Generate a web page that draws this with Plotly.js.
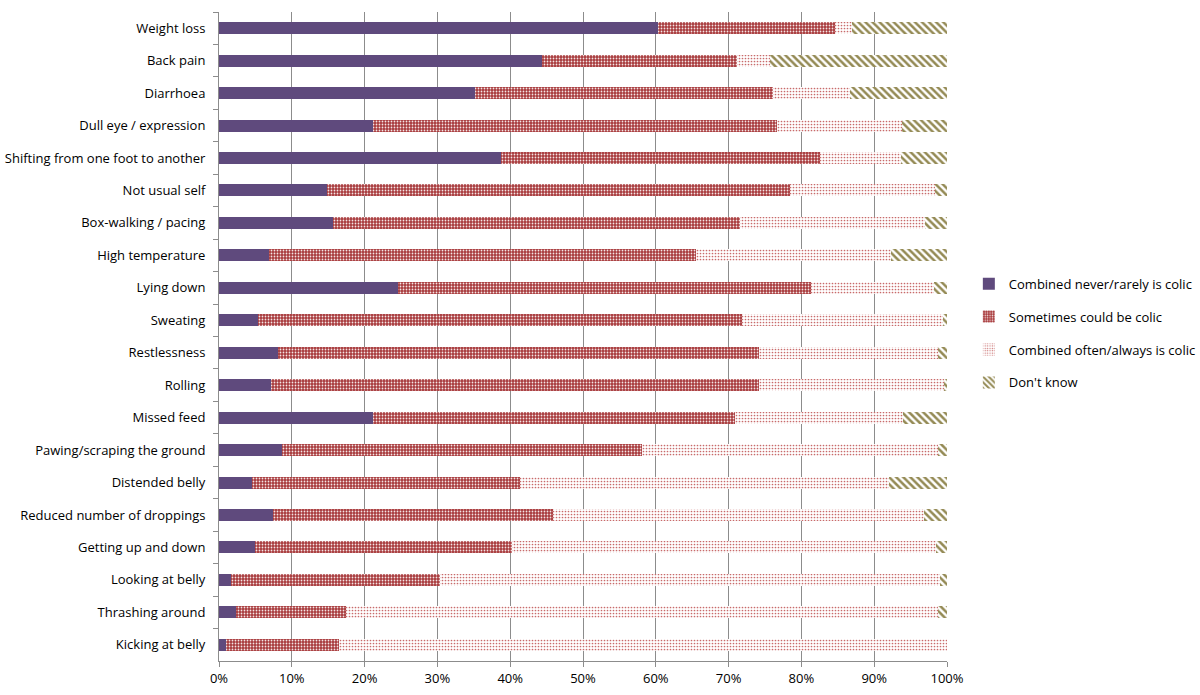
<!DOCTYPE html>
<html>
<head>
<meta charset="utf-8">
<script src="https://cdn.plot.ly/plotly-3.0.1.min.js"></script>
<style>html,body{margin:0;padding:0;background:#fff;}#chart{width:1200px;height:695px;}</style>
</head>
<body>
<div id="chart"></div>
<script>
const categories = [
  "Weight loss", "Back pain", "Diarrhoea", "Dull eye / expression",
  "Shifting from one foot to another", "Not usual self", "Box-walking / pacing",
  "High temperature", "Lying down", "Sweating", "Restlessness", "Rolling",
  "Missed feed", "Pawing/scraping the ground", "Distended belly",
  "Reduced number of droppings", "Getting up and down", "Looking at belly",
  "Thrashing around", "Kicking at belly"
];
const seriesNames = [
  "Combined never/rarely is colic", "Sometimes could be colic",
  "Combined often/always is colic", "Don't know"
];
const neverRarely = [60.3, 44.3, 35.2, 21.1, 38.7, 14.9, 15.7, 6.9, 24.6, 5.4, 8.1, 7.2, 21.2, 8.7, 4.5, 7.4, 5.0, 1.6, 2.3, 0.9];
const sometimes   = [24.3, 26.9, 40.9, 55.6, 43.8, 63.6, 55.8, 58.6, 56.7, 66.4, 66.1, 67.0, 49.7, 49.4, 36.8, 38.5, 35.2, 28.8, 15.1, 15.6];
const oftenAlways = [2.4, 4.5, 10.6, 17.1, 11.2, 19.8, 25.5, 26.8, 16.9, 27.7, 24.6, 25.4, 23.0, 40.6, 50.8, 50.9, 58.3, 68.7, 81.4, 83.5];
const dontKnow    = [13.0, 24.3, 13.3, 6.2, 6.3, 1.7, 3.0, 7.7, 1.8, 0.5, 1.2, 0.4, 6.1, 1.3, 7.9, 3.2, 1.5, 0.9, 1.2, 0.0];
const xTickVals = [0, 10, 20, 30, 40, 50, 60, 70, 80, 90, 100];
const xTickText = ["0%", "10%", "20%", "30%", "40%", "50%", "60%", "70%", "80%", "90%", "100%"];

const styles = [
  {color: "#5F4A7D", pattern: {shape: ""}},
  {color: "#A33B3B", pattern: {shape: ".", fgcolor: "#F4E6E6", bgcolor: "#A8393B", size: 3, solidity: 0.28, fillmode: "replace"}},
  {color: "#C0504D", pattern: {shape: ".", fgcolor: "#C86A6A", bgcolor: "#FFFFFF", size: 3, solidity: 0.25, fillmode: "replace"}},
  {color: "#948A54", pattern: {shape: "\\", fgcolor: "#948A54", bgcolor: "#FFFFFF", size: 5, solidity: 0.5, fillmode: "replace"}}
];
const allSeries = [neverRarely, sometimes, oftenAlways, dontKnow];

const traces = allSeries.map((vals, i) => ({
  type: "bar",
  orientation: "h",
  name: seriesNames[i],
  y: categories,
  x: vals,
  legendgroup: "g" + i,
  marker: {color: styles[i].color, pattern: styles[i].pattern, line: {width: 0}},
  hoverinfo: "name+x"
}));

const font = {family: "Open Sans, Liberation Sans, Arial, sans-serif", size: 13, color: "#000"};

const layout = {
  width: 1200, height: 695,
  margin: {l: 219, r: 253, t: 12, b: 34, pad: 0, autoexpand: false},
  barmode: "stack",
  barnorm: "percent",
  bargap: 0.63,
  paper_bgcolor: "#fff",
  plot_bgcolor: "#fff",
  font: font,
  showlegend: true,
  legend: {
    x: 1.030, xanchor: "left", y: 0.505, yanchor: "middle",
    traceorder: "grouped", tracegroupgap: 13,
    font: {family: font.family, size: 13, color: "#000"},
    itemwidth: 30
  },
  xaxis: {
    range: [0, 100],
    tickvals: xTickVals, ticktext: xTickText,
    showgrid: true, gridcolor: "#8C8C8C", gridwidth: 1,
    showline: true, linecolor: "#8C8C8C", linewidth: 1,
    ticks: "outside", ticklen: 5, tickcolor: "#8C8C8C",
    zeroline: false, fixedrange: true
  },
  yaxis: {
    type: "category",
    categoryorder: "array", categoryarray: categories,
    autorange: "reversed",
    showgrid: false,
    showline: true, linecolor: "#8C8C8C", linewidth: 1,
    ticks: "outside", ticklen: 5, tickcolor: "#8C8C8C",
    tickson: "boundaries",
    ticklabelstandoff: 10,
    zeroline: false, fixedrange: true
  }
};

Plotly.newPlot("chart", traces, layout, {displayModeBar: false, staticPlot: true});
</script>
</body>
</html>
